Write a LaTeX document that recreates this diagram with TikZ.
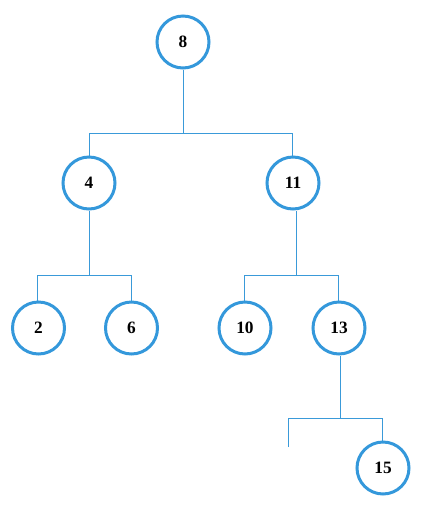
\documentclass[tikz,border=0pt]{standalone}
\usepackage{fontspec}
\setmainfont{Liberation Serif}
\definecolor{nodeblue}{RGB}{52,152,219}
\definecolor{lineblue}{RGB}{58,154,217}
\begin{document}
\begin{tikzpicture}[x=0.75pt,y=-0.75pt,
  tn/.style={circle,draw=nodeblue,line width=2.25pt,minimum size=39pt,inner sep=0pt,
    font=\fontsize{13}{15}\selectfont\bfseries},
  conn/.style={draw=lineblue,line width=0.75pt}]
\useasboundingbox (0,0) rectangle (436,512);
\node[tn] (n8) at (183,42) {8};
\node[tn] (n4) at (89,183) {4};
\node[tn] (n11) at (293,183) {11};
\node[tn] (n2) at (38.5,328) {2};
\node[tn] (n6) at (131.5,328) {6};
\node[tn] (n10) at (245,328) {10};
\node[tn] (n13) at (339,328) {13};
\node[tn] (n15) at (383,468) {15};
\coordinate (b1) at (183,133.5);
\coordinate (b2) at (89.5,275.5);
\coordinate (b3) at (296,275.5);
\coordinate (b4) at (340.5,418.5);
\coordinate (e) at (288.5,447);
% 8
\draw[conn] (n8) -- (b1);
\draw[conn] (89.5,155.5) |- (b1) -| (292.5,155.5);
% 4
\draw[conn] (b2) -- (b2 |- n4.south);
\draw[conn] (37.5,300.5) |- (b2) -| (131.5,300.5);
% 11
\draw[conn] (b3) -- (b3 |- n11.south);
\draw[conn] (244.5,300.5) |- (b3) -| (338.5,300.5);
% 13
\draw[conn] (b4) -- (b4 |- n13.south);
\draw[conn] (e) |- (b4) -| (382.5,440.5);
\end{tikzpicture}
\end{document}
